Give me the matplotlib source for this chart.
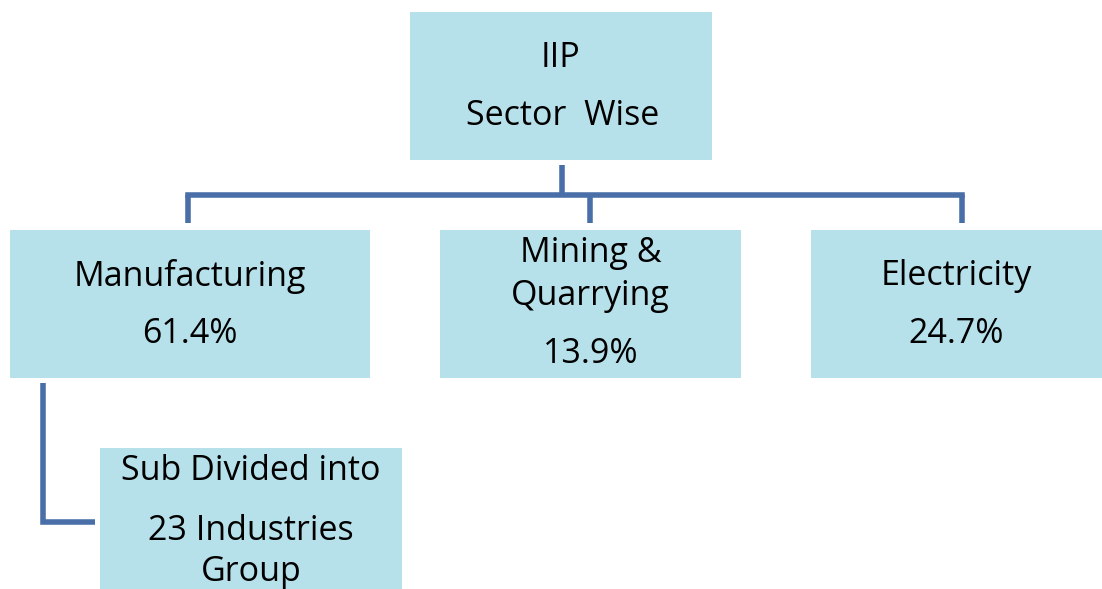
import matplotlib.pyplot as plt
from matplotlib.patches import Rectangle

# org chart: IIP sector wise
top_label = ["IIP", "Sector  Wise"]
sectors = ["Manufacturing", "Mining &\nQuarrying", "Electricity"]
shares = ["61.4%", "13.9%", "24.7%"]
sub_label = ["Sub Divided into", "23 Industries", "Group"]

box_col = "#b7e1ea"
line_col = "#4a6ea8"
font = ["Open Sans", "DejaVu Sans"]
fs = 24.5

fig = plt.figure(figsize=(11.02, 5.89), dpi=100)
ax = fig.add_axes([0, 0, 1, 1])
ax.set_xlim(0, 1102)
ax.set_ylim(589, 0)
ax.axis("off")

def box(x0, y0, x1, y1):
    ax.add_patch(Rectangle((x0, y0), x1 - x0, y1 - y0, facecolor=box_col,
                           edgecolor="none", zorder=1))

def txt(x, y, s):
    ax.text(x, y, s, ha="center", va="center", fontsize=fs, family=font,
            color="black", zorder=3)

# top box
box(410, 12, 712, 160)
txt(561, 58, top_label[0])
txt(563, 116, top_label[1])

# connectors
lw = 4
ax.plot([562, 562], [165, 195], color=line_col, lw=lw, solid_capstyle="butt")
ax.plot([188, 962], [195, 195], color=line_col, lw=lw, solid_capstyle="projecting")
for xc in [188, 590, 962]:
    ax.plot([xc, xc], [195, 223], color=line_col, lw=lw, solid_capstyle="butt")

# sector boxes
boxes = [(10, 370), (440, 741), (811, 1102)]
for (x0, x1), name, pct in zip(boxes, sectors, shares):
    box(x0, 230, x1, 378)
    xm = (x0 + x1) / 2
    if "\n" in name:
        a, b = name.split("\n")
        txt(xm, 253, a)
        txt(xm, 296, b)
        txt(xm, 354, pct)
    else:
        txt(xm, 276, name)
        txt(xm, 334, pct)

# sub-group connector and box
ax.plot([43, 43, 95], [383, 522, 522], color=line_col, lw=lw,
        solid_joinstyle="miter", solid_capstyle="butt")
box(100, 448, 402, 600)
txt(251, 471, sub_label[0])
txt(251, 531, sub_label[1])
txt(251, 572, sub_label[2])

fig.savefig("out.png", dpi=100)
